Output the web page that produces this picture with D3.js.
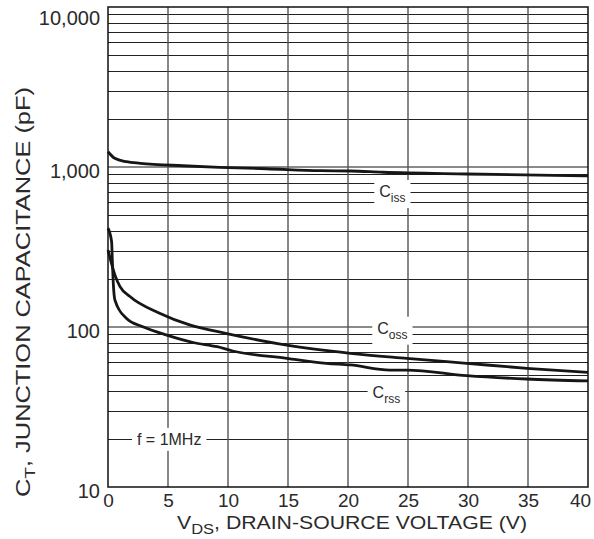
<!DOCTYPE html>
<html>
<head>
<meta charset="utf-8">
<script src="https://cdn.jsdelivr.net/npm/d3@7"></script>
<style>
  body { margin: 0; background: #fff; }
  text { font-family: "Liberation Sans", Arial, Helvetica, sans-serif; fill: #2a2a2a; }
</style>
</head>
<body>
<svg id="chart" width="594" height="539"></svg>
<script>
// Ciss, Coss, Crss vs VDS
const cissV = [0, 0.56, 1.55, 2.7, 6.25, 9.3, 13.2, 17.7, 20.2, 22.9, 29.9, 40];
const cissC = [1245, 1133, 1079, 1055, 1018, 995, 975, 948, 944, 927, 904, 879];

const cossV = [0, 0.58, 1, 1.83, 4.3, 6.8, 9.9, 14.9, 20.2, 24.9, 29.9, 34.9, 40];
const cossC = [303, 211, 179, 155, 122, 103, 91, 77, 68.5, 63.7, 59.3, 55.2, 52.1];

const crssV = [0, 0.3, 0.36, 0.44, 0.58, 1.55, 2.9, 4.9, 7.1, 9.1, 10.4, 14.9, 18.2, 20.2, 23.5, 24.9, 29.9, 34.9, 40];
const crssC = [414, 341, 262, 188, 147, 113, 100.4, 89, 80, 75.3, 70.8, 63.7, 59.3, 57.9, 53.8, 53.8, 49.6, 47.3, 46];

const xTicks = [0, 5, 10, 15, 20, 25, 30, 35, 40];
const yTicks = [10, 100, 1000, 10000];
const yTickLabels = ["10", "100", "1,000", "10,000"];

// curve annotations: name, subscript, anchor (V, pF)
const labelText = ["C", "C", "C", "f = 1MHz"];
const labelSub = ["iss", "oss", "rss", ""];
const labelV = [23.7, 23.7, 23.2, 5.1];
const labelC = [708, 99, 39.2, 20];

const svg = d3.select("#chart");
const margin = { top: 7, right: 6, bottom: 52, left: 108 };
const W = 594, H = 539;

const x = d3.scaleLinear().domain([0, 40]).range([margin.left, W - margin.right]);
const y = d3.scaleLog().domain([10, 10000]).range([H - margin.bottom, margin.top]);

// minor log gridlines (2..9 of every decade)
const minor = [];
[10, 100, 1000].forEach(d => { for (let k = 2; k <= 9; k++) minor.push(d * k); });

const grid = svg.append("g");
grid.selectAll("line.minor").data(minor).enter().append("line")
  .attr("x1", x(0)).attr("x2", x(40))
  .attr("y1", d => Math.round(y(d)) + 0.5).attr("y2", d => Math.round(y(d)) + 0.5)
  .attr("stroke", "#222").attr("stroke-width", 1);

grid.selectAll("line.major").data([100, 1000]).enter().append("line")
  .attr("x1", x(0)).attr("x2", x(40))
  .attr("y1", d => y(d)).attr("y2", d => y(d))
  .attr("stroke", "#8a8a8a").attr("stroke-width", 2);

grid.selectAll("line.vert").data(xTicks.slice(1, -1)).enter().append("line")
  .attr("x1", d => x(d)).attr("x2", d => x(d))
  .attr("y1", y(10)).attr("y2", y(10000))
  .attr("stroke", "#555").attr("stroke-width", 1.4);

// curves
const line = d3.line().x(d => x(d[0])).y(d => y(d[1])).curve(d3.curveMonotoneX);
const series = [
  d3.zip(cissV, cissC),
  d3.zip(cossV, cossC),
  d3.zip(crssV, crssC)
];
svg.append("g").selectAll("path").data(series).enter().append("path")
  .attr("d", line)
  .attr("fill", "none")
  .attr("stroke", "#161616")
  .attr("stroke-width", 2.8)
  .attr("stroke-linejoin", "round");

// labels with white boxes over the grid
const labels = svg.append("g");
labelText.forEach((t, i) => {
  const g = labels.append("g");
  const txt = g.append("text")
    .attr("x", x(labelV[i]))
    .attr("y", y(labelC[i]) + 6)
    .attr("text-anchor", "middle")
    .style("font-size", "16px");
  txt.append("tspan").text(t);
  if (labelSub[i]) {
    txt.append("tspan").attr("dy", 5).style("font-size", "12px").text(labelSub[i]);
  }
  const b = txt.node().getBBox();
  g.insert("rect", "text")
    .attr("x", b.x - 5).attr("y", b.y - 3)
    .attr("width", b.width + 10).attr("height", b.height + 6)
    .attr("fill", "#fff");
});

// frame
svg.append("rect")
  .attr("x", x(0)).attr("y", y(10000))
  .attr("width", x(40) - x(0)).attr("height", y(10) - y(10000))
  .attr("fill", "none").attr("stroke", "#111").attr("stroke-width", 1.5);

// axes
const xAxis = svg.append("g")
  .attr("transform", `translate(0,${y(10)})`)
  .call(d3.axisBottom(x).tickValues(xTicks).tickSize(0).tickPadding(7));
xAxis.select(".domain").remove();
xAxis.selectAll("text").style("font-size", "19px").attr("fill", "#2a2a2a");
xAxis.selectAll(".tick").filter(d => d === 40).select("text").attr("dx", -8);

const yAxis = svg.append("g")
  .attr("transform", `translate(${x(0) - 8},0)`)
  .call(d3.axisLeft(y).tickValues(yTicks).tickSize(0).tickPadding(0)
    .tickFormat((d, i) => yTickLabels[i]));
yAxis.select(".domain").remove();
yAxis.selectAll("text").style("font-size", "20px").attr("fill", "#2a2a2a")
  .attr("dy", d => d === 10000 ? "0.85em" : "0.5em");

// axis titles (stretched to the width they take in the datasheet)
const xt = svg.append("text")
  .attr("x", 177).attr("y", 529)
  .attr("textLength", 350)
  .attr("lengthAdjust", "spacingAndGlyphs")
  .style("font-size", "18px");
xt.append("tspan").text("V");
xt.append("tspan").attr("dy", 5).style("font-size", "14px").text("DS");
xt.append("tspan").attr("dy", -5).text(", DRAIN-SOURCE VOLTAGE (V)");

const yt = svg.append("text")
  .attr("transform", "translate(30,497) rotate(-90)")
  .attr("textLength", 410)
  .attr("lengthAdjust", "spacingAndGlyphs")
  .style("font-size", "20px");
yt.append("tspan").text("C");
yt.append("tspan").attr("dy", 5).style("font-size", "15px").text("T");
yt.append("tspan").attr("dy", -5).text(", JUNCTION CAPACITANCE (pF)");
</script>
</body>
</html>
